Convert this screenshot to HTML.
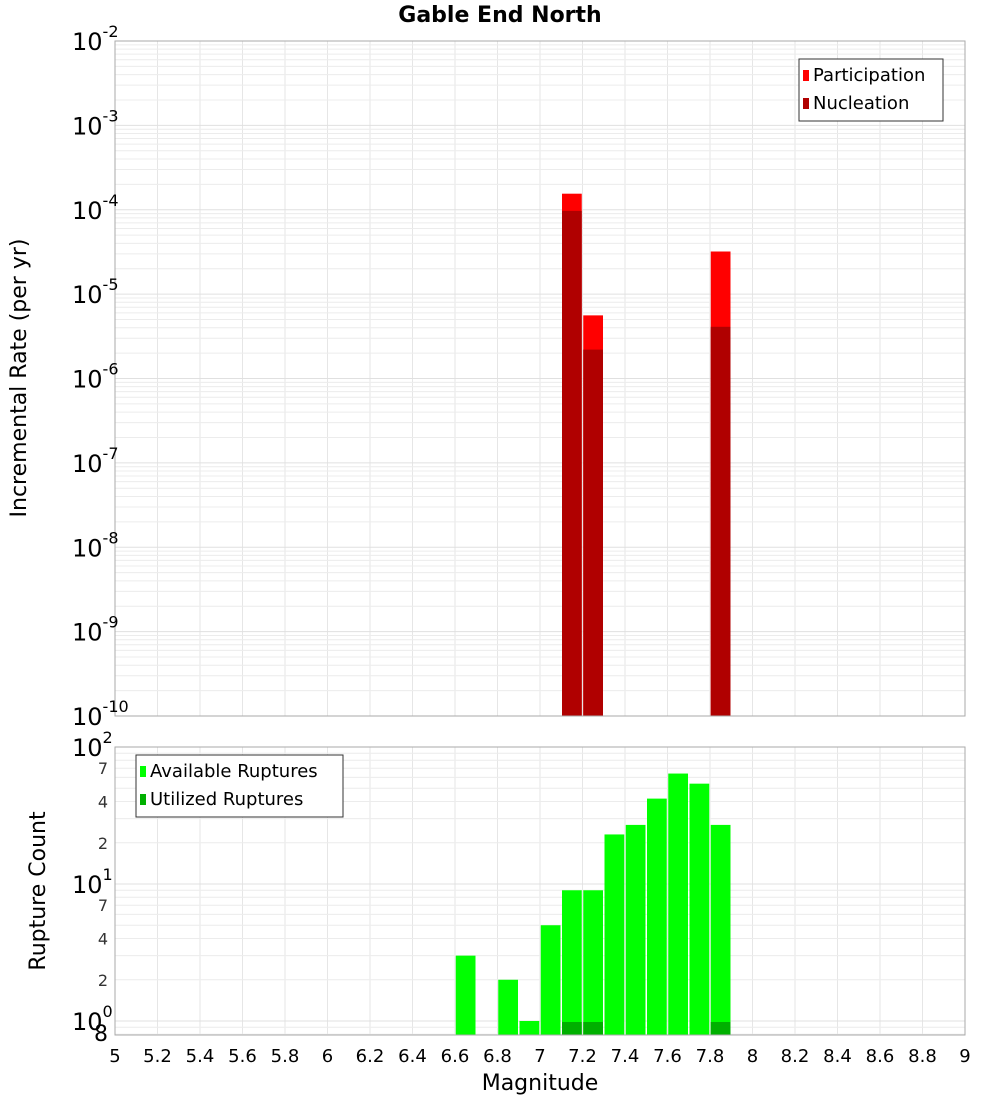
<!DOCTYPE html>
<html><head><meta charset="utf-8"><style>
body{margin:0;background:#fff;}
svg text{font-family:"DejaVu Sans","Liberation Sans",sans-serif;}
</style></head><body>
<svg id="c" width="1000" height="1100" xmlns="http://www.w3.org/2000/svg">
<text x="500" y="22" text-anchor="middle" font-size="22" font-weight="bold">Gable End North</text>
<g id="topplot"></g>
<g id="botplot"></g>
<text x="540" y="1090" text-anchor="middle" font-size="22">Magnitude</text>
<text transform="translate(26,378) rotate(-90)" text-anchor="middle" font-size="22">Incremental Rate (per yr)</text>
<text transform="translate(45,891) rotate(-90)" text-anchor="middle" font-size="22">Rupture Count</text>
</svg>
<script>
const rateMags=[7.15,7.25,7.85];
const participation=[1.55e-4,5.6e-6,3.2e-5];
const nucleation=[9.7e-5,2.2e-6,4.1e-6];
const countMags=[6.65,6.85,6.95,7.05,7.15,7.25,7.35,7.45,7.55,7.65,7.75,7.85];
const available=[3,2,1,5,9,9,23,27,42,64,54,27];
const utilMags=[7.15,7.25,7.85];
const utilized=[1,1,1];
const xTicks=[5,5.2,5.4,5.6,5.8,6,6.2,6.4,6.6,6.8,7,7.2,7.4,7.6,7.8,8,8.2,8.4,8.6,8.8,9];
const topExps=[-2,-3,-4,-5,-6,-7,-8,-9,-10];
const botMinorLabels=[2,4,7];

const NS="http://www.w3.org/2000/svg";
const L=115,R=965;
const xs=m=>L+(m-5)/4*(R-L);
const T1=41,B1=716;
const y1=v=>T1+(-2-Math.log10(v))/8*(B1-T1);
const T2=747,B2=1035,PD=137;
const y2=v=>T2+(2-Math.log10(v))*PD;
function mk(p,tag,a,txt){const e=document.createElementNS(NS,tag);for(const k in a)e.setAttribute(k,a[k]);if(txt!==undefined)e.textContent=txt;p.appendChild(e);return e;}
const topG=document.getElementById('topplot'),botG=document.getElementById('botplot');
function grid(g,T,B,yf,dmin,dmax,lo){
  xTicks.forEach(t=>{const l=mk(g,'line',{x1:xs(t),x2:xs(t),y1:T,y2:B,stroke:'#e6e6e6'});
  
  });
  for(let d=dmin;d<dmax;d++)for(let k=1;k<10;k++){const v=k*Math.pow(10,d);if(v<lo)continue;const y=yf(v);if(y<T||y>B)continue;
    const l=mk(g,'line',{x1:L,x2:R,y1:y,y2:y,stroke:k==1?'#e0e0e0':'#ececec'});
    
    }
}
grid(topG,T1,B1,y1,-10,-2,1e-10);
grid(botG,T2,B2,y2,-1,2,0.79);
const bw=(xs(0.1)-xs(0))-1.5;
rateMags.forEach((m,i)=>{
  const x=xs(m)-bw/2;
  const p=mk(topG,'rect',{x:x,y:y1(participation[i]),width:bw,height:B1-y1(participation[i]),fill:'#ff0000'});
  
  
  const n=mk(topG,'rect',{x:x,y:y1(nucleation[i]),width:bw,height:B1-y1(nucleation[i]),fill:'#b00000'});
  
  
});
countMags.forEach((m,i)=>{
  const x=xs(m)-bw/2;
  const r=mk(botG,'rect',{x:x,y:y2(available[i]),width:bw,height:B2-y2(available[i]),fill:'#00ff00'});
  
  
});
utilMags.forEach((m,i)=>{
  const x=xs(m)-bw/2;
  const r=mk(botG,'rect',{x:x,y:y2(utilized[i])+1,width:bw,height:B2-y2(utilized[i])-1,fill:'#00b000'});
  
  
});
mk(topG,'rect',{x:L,y:T1,width:R-L,height:B1-T1,fill:'none',stroke:'#aaa'});
mk(botG,'rect',{x:L,y:T2,width:R-L,height:B2-T2,fill:'none',stroke:'#aaa'});
topExps.forEach(e=>{const y=y1(Math.pow(10,e));
  const t=mk(topG,'text',{x:72,y:y+9,'font-size':24});
  
  
  mk(t,'tspan',{},'10');mk(t,'tspan',{'font-size':16,dy:-13},String(e));});
[2,1,0].forEach(e=>{const y=y2(Math.pow(10,e));
  const t=mk(botG,'text',{x:72,y:y+9,'font-size':24});
  
  
  mk(t,'tspan',{},'10');mk(t,'tspan',{'font-size':16,dy:-13},String(e));});
[0,1].forEach(d=>botMinorLabels.forEach(k=>{const v=k*Math.pow(10,d);
  const t=mk(botG,'text',{x:108,y:y2(v)+6,'font-size':16,'text-anchor':'end',fill:'#333'},String(k));
  
  }));
{const t=mk(botG,'text',{x:108,y:1041,'font-size':22,'text-anchor':'end'},'8');

}
xTicks.forEach(t=>{const e=mk(botG,'text',{x:xs(t),y:1062,'font-size':18,'text-anchor':'middle'},String(t));
  
  });
function legend(g,x,y,w,items){
  const box=mk(g,'g',{});
  
  
  mk(box,'rect',{x:x,y:y,width:w,height:items.length*28+6,fill:'#fff',stroke:'#333'});
  items.forEach((it,i)=>{
    const e=mk(box,'g',{});
    
    
    mk(e,'rect',{x:x+4,y:y+11+i*28,width:6,height:11,fill:it[1]});
    mk(e,'text',{x:x+14,y:y+22+i*28,'font-size':18},it[0]);
  });
}
legend(topG,799,59,144,[['Participation','#ff0000'],['Nucleation','#b00000']]);
legend(botG,136,755,207,[['Available Ruptures','#00ff00'],['Utilized Ruptures','#00b000']]);
</script>
</body></html>
